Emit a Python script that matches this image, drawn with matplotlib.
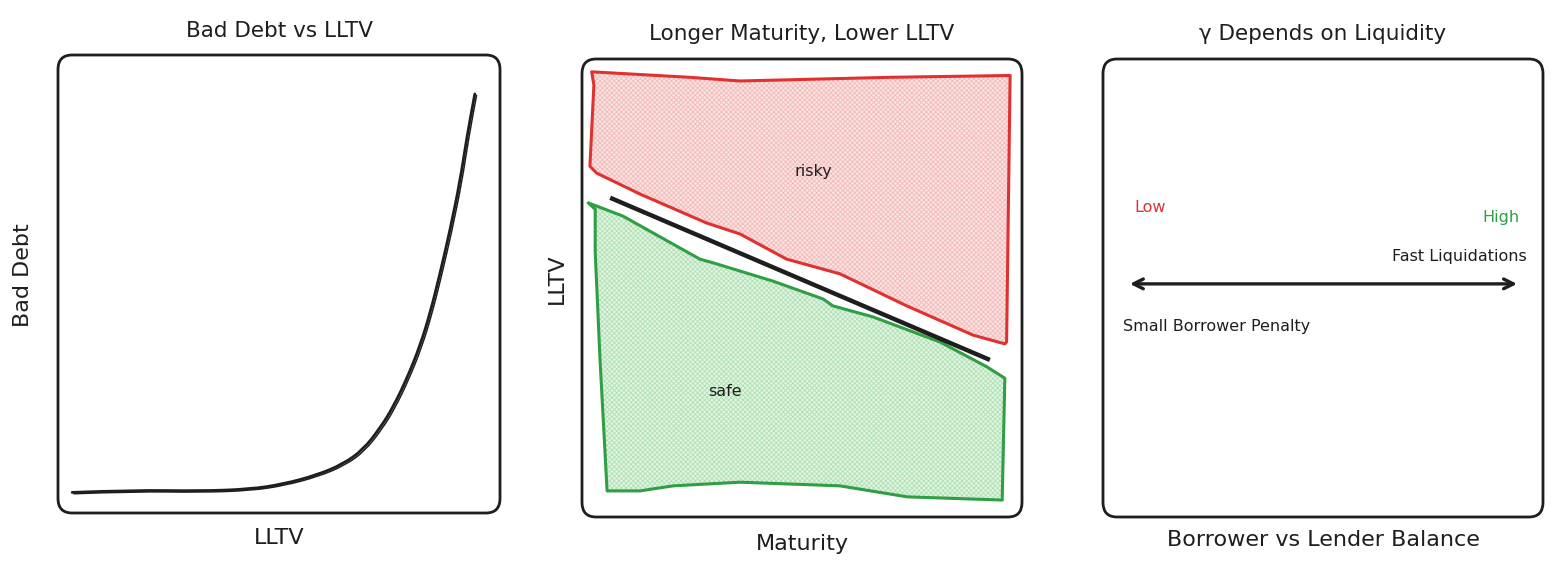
import matplotlib
matplotlib.use("Agg")
import matplotlib.pyplot as plt
from matplotlib.patches import Polygon, FancyBboxPatch, PathPatch
from matplotlib.path import Path

plt.rcParams['font.family'] = ['DejaVu Sans']
plt.rcParams['hatch.linewidth'] = 0.6

# ---------------- data ----------------
# Panel 1: Bad Debt vs LLTV (normalised units)
lltv = [0.032, 0.170, 0.321, 0.434, 0.509, 0.586, 0.645, 0.690, 0.729,
        0.758, 0.790, 0.819, 0.842, 0.864, 0.887, 0.910, 0.925, 0.943]
bad_debt = [0.045, 0.050, 0.048, 0.052, 0.063, 0.083, 0.107, 0.138, 0.186,
            0.231, 0.295, 0.365, 0.437, 0.522, 0.618, 0.727, 0.821, 0.915]

# Panel 2: regions in (maturity, LLTV)
risky_maturity = [0.022, 0.245, 0.359, 0.700, 0.973, 0.965, 0.961, 0.889,
                  0.738, 0.586, 0.465, 0.359, 0.283, 0.132, 0.033, 0.018, 0.027]
risky_lltv = [0.972, 0.960, 0.952, 0.960, 0.964, 0.382, 0.378, 0.397,
              0.461, 0.531, 0.563, 0.618, 0.642, 0.705, 0.751, 0.766, 0.943]
safe_maturity = [0.014, 0.093, 0.268, 0.298, 0.434, 0.548, 0.570, 0.661, 0.814,
                 0.920, 0.961, 0.955, 0.739, 0.586, 0.359, 0.207, 0.132, 0.057,
                 0.041, 0.030, 0.030]
safe_lltv = [0.686, 0.657, 0.563, 0.555, 0.515, 0.476, 0.461, 0.437, 0.382,
             0.328, 0.303, 0.037, 0.044, 0.068, 0.076, 0.068, 0.057, 0.057,
             0.343, 0.579, 0.672]
boundary_maturity = [0.064, 0.927]
boundary_lltv = [0.697, 0.343]

# Panel 3: balance arrow
arrow_balance = [0.061, 0.941]
arrow_level = 0.509

titles = ["Bad Debt vs LLTV", "Longer Maturity, Lower LLTV", "γ Depends on Liquidity"]
xlabels = ["LLTV", "Maturity", "Borrower vs Lender Balance"]
ylabels = ["Bad Debt", "LLTV", ""]

INK = "#1e1e1e"
RED = "#e03131"
GREEN = "#2f9e44"


def smooth_path(xs, ys):
    """Quadratic-Bezier path through midpoints of the given points."""
    pts = list(zip(xs, ys))
    verts = [pts[0]]
    codes = [Path.MOVETO]
    for i in range(1, len(pts) - 1):
        mid = ((pts[i][0] + pts[i + 1][0]) / 2, (pts[i][1] + pts[i + 1][1]) / 2)
        verts += [pts[i], mid]
        codes += [Path.CURVE3, Path.CURVE3]
    verts.append(pts[-1])
    codes.append(Path.LINETO)
    return Path(verts, codes)


W, H = 1560, 564
fig = plt.figure(figsize=(W / 100, H / 100), dpi=100)
fig.patch.set_facecolor("white")

boxes = [(58, 55, 500, 513), (582, 59, 1022, 517), (1103, 59, 1543, 517)]
axes = []
for (x0, y0, x1, y1) in boxes:
    ax = fig.add_axes([x0 / W, (H - y1) / H, (x1 - x0) / W, (y1 - y0) / H])
    ax.set_xlim(0, 1)
    ax.set_ylim(0, 1)
    ax.axis("off")
    box = FancyBboxPatch((0, 0), 1, 1, boxstyle="round,pad=0,rounding_size=0.032",
                         transform=ax.transAxes, fill=False, edgecolor=INK,
                         linewidth=2.0, clip_on=False)
    ax.add_patch(box)
    axes.append(ax)

# titles and labels
title_y = [1.053, 1.055, 1.055]
xlabel_y = [-0.055, -0.059, -0.050]
ylabel_x = [-0.079, -0.057, None]
for i, ax in enumerate(axes):
    ax.text(0.5, title_y[i], titles[i], transform=ax.transAxes, ha="center",
            va="center", fontsize=15.5, color=INK)
    ax.text(0.5, xlabel_y[i], xlabels[i], transform=ax.transAxes, ha="center",
            va="center", fontsize=16, color=INK)
    if ylabels[i]:
        ax.text(ylabel_x[i], 0.52, ylabels[i], transform=ax.transAxes, ha="center",
                va="center", fontsize=16, rotation=90, color=INK)

# Panel 1 curve (sketchy double stroke)
ax1 = axes[0]
ax1.add_patch(PathPatch(smooth_path(lltv, bad_debt), facecolor="none",
                        edgecolor=INK, lw=2.0, capstyle="round", joinstyle="round"))
ax1.add_patch(PathPatch(smooth_path([v + 0.004 for v in lltv],
                                    [v - 0.003 for v in bad_debt]),
                        facecolor="none", edgecolor=INK, lw=1.1, capstyle="round",
                        joinstyle="round"))

# Panel 2 regions
ax2 = axes[1]
risky_pts = list(zip(risky_maturity, risky_lltv))
safe_pts = list(zip(safe_maturity, safe_lltv))
ax2.add_patch(Polygon(risky_pts, closed=True, facecolor="#fce4e4", edgecolor="none"))
ax2.add_patch(Polygon(risky_pts, closed=True, facecolor="none", edgecolor="#f2b9b9",
                      hatch="xxxxxxx", linewidth=0))
ax2.add_patch(Polygon(risky_pts, closed=True, facecolor="none", edgecolor=RED,
                      linewidth=2.2, joinstyle="round"))
ax2.add_patch(Polygon(safe_pts, closed=True, facecolor="#e2f5e3", edgecolor="none"))
ax2.add_patch(Polygon(safe_pts, closed=True, facecolor="none", edgecolor="#afe0b3",
                      hatch="xxxxxxx", linewidth=0))
ax2.add_patch(Polygon(safe_pts, closed=True, facecolor="none", edgecolor=GREEN,
                      linewidth=2.2, joinstyle="round"))
ax2.plot(boundary_maturity, boundary_lltv, color=INK, lw=3.2, solid_capstyle="butt")
ax2.text(0.525, 0.755, "risky", ha="center", va="center", fontsize=11.5, color=INK)
ax2.text(0.325, 0.273, "safe", ha="center", va="center", fontsize=11.5, color=INK)

# Panel 3 annotations
ax3 = axes[2]
ax3.annotate("", xy=(arrow_balance[1], arrow_level), xytext=(arrow_balance[0], arrow_level),
             arrowprops=dict(arrowstyle="<->,head_length=0.7,head_width=0.35",
                             lw=2.4, color=INK, shrinkA=0, shrinkB=0))
ax3.text(0.107, 0.675, "Low", ha="center", va="center", fontsize=11.5, color=RED)
ax3.text(0.904, 0.653, "High", ha="center", va="center", fontsize=11.5, color=GREEN)
ax3.text(0.809, 0.568, "Fast Liquidations", ha="center", va="center", fontsize=11.5,
         color=INK)
ax3.text(0.258, 0.416, "Small Borrower Penalty", ha="center", va="center",
         fontsize=11.5, color=INK)

fig.savefig("out.png", dpi=100, facecolor="white")
